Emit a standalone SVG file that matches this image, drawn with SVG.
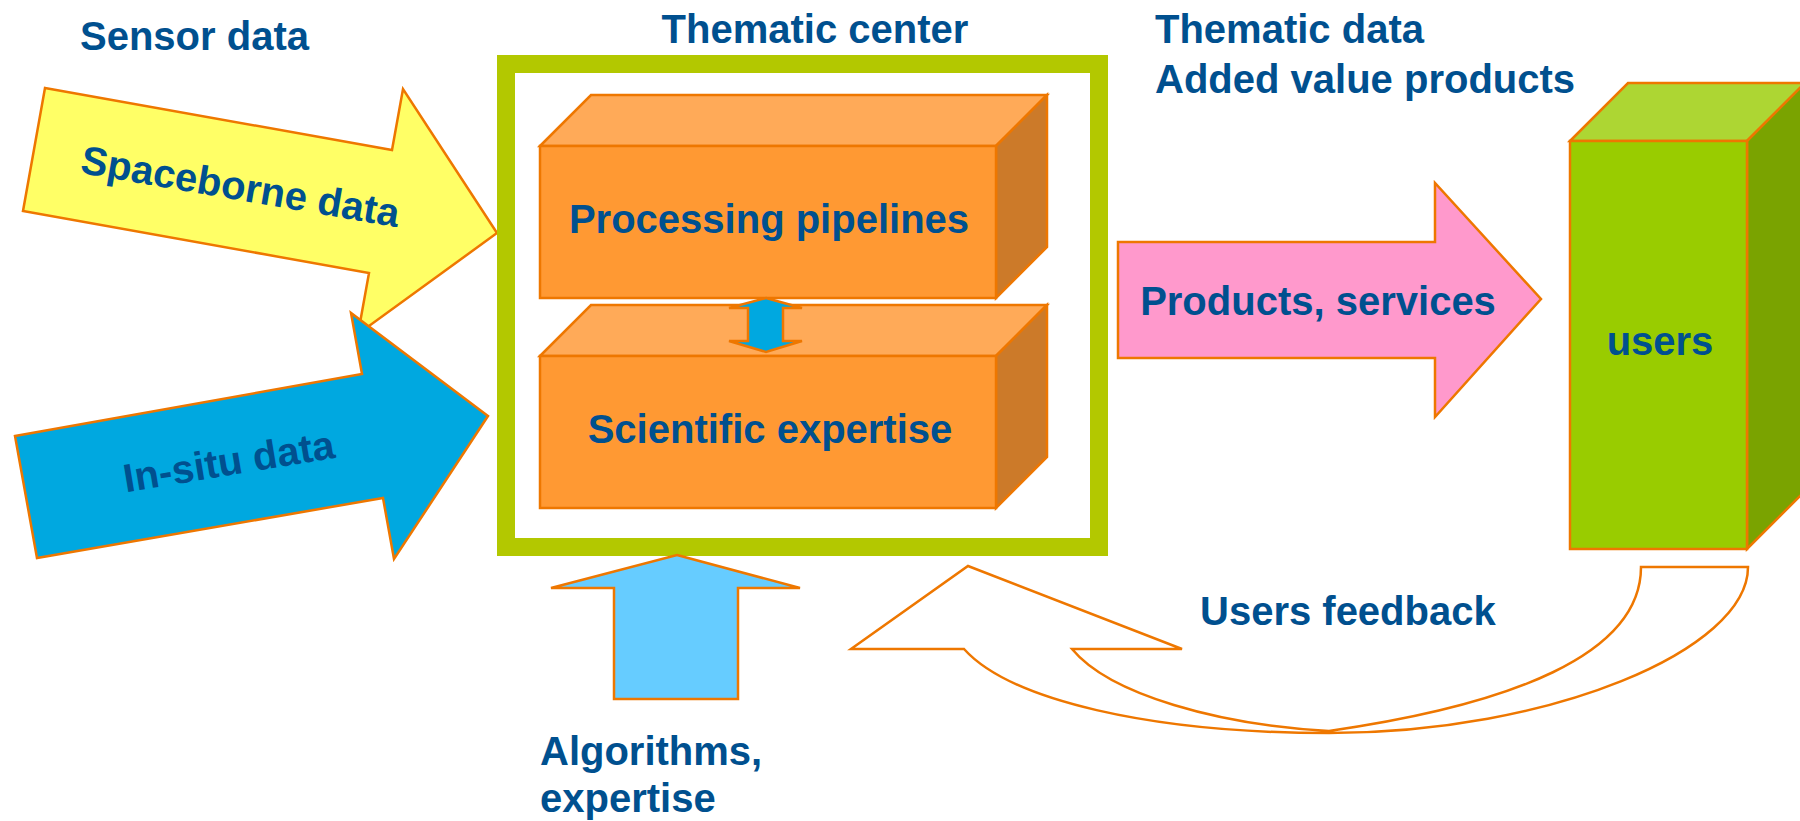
<svg xmlns="http://www.w3.org/2000/svg" width="1800" height="821" viewBox="0 0 1800 821">
<style>
.t{font-family:"Liberation Sans",Arial,sans-serif;font-weight:bold;font-size:40px;fill:#00508F}
.m{text-anchor:middle}
.o{stroke:#EE7700;stroke-width:2.5;stroke-linejoin:miter}
</style>
<rect width="1800" height="821" fill="#FFFFFF"/>
<g id="labels">
<text class="t" x="80" y="50">Sensor data</text>
<text class="t m" x="815" y="43">Thematic center</text>
<text class="t" x="1155" y="43">Thematic data</text>
<text class="t" x="1155" y="93">Added value products</text>
</g>
<g id="spaceborne">
<polygon class="o" fill="#FFFF66" points="45,88 392,150 403,89 497,233 358,334 369,273 23,211"/>
<text class="t m" x="238" y="200" transform="rotate(9.7 238 200)">Spaceborne data</text>
</g>
<g id="insitu">
<polygon class="o" fill="#00A8E0" points="15,436 362,374 351,313 488,416 394,559 383,498 37,558"/>
<text class="t m" x="231" y="475" transform="rotate(-9.4 231 475)">In-situ data</text>
</g>
<g id="thematic-center">
<rect x="506" y="64" width="593" height="483" fill="#FFFFFF" stroke="#B3C800" stroke-width="18"/>
</g>
<g id="processing">
<polygon class="o" fill="#FFAA58" points="540,146 591,95 1047,95 996,146"/>
<polygon class="o" fill="#CC7A29" points="996,146 1047,95 1047,247 996,298"/>
<rect class="o" fill="#FF9933" x="540" y="146" width="456" height="152"/>
<text class="t m" x="769" y="233">Processing pipelines</text>
</g>
<g id="scientific">
<polygon class="o" fill="#FFAA58" points="540,356 591,305 1047,305 996,356"/>
<polygon class="o" fill="#CC7A29" points="996,356 1047,305 1047,457 996,508"/>
<rect class="o" fill="#FF9933" x="540" y="356" width="456" height="152"/>
<text class="t m" x="770" y="443">Scientific expertise</text>
</g>
<g id="users">
<polygon class="o" fill="#ADD633" points="1570,141 1628,83 1805,83 1747,141"/>
<polygon class="o" fill="#7AA300" points="1747,141 1805,83 1805,491 1747,549"/>
<rect class="o" fill="#99CC00" x="1570" y="141" width="177" height="408"/>
<text class="t m" x="1660" y="355">users</text>
</g>
<g id="connectors">
<polygon class="o" fill="#00A8E0" points="766,298 802,308 783,308 783,341 802,341 766,352 729,341 748,341 748,308 729,308"/>
<polygon class="o" fill="#66CCFF" points="677,555 800,588 738,588 738,699 614,699 614,588 551,588"/>
<polygon class="o" fill="#FF99CC" points="1118,242 1435,242 1435,183 1541,299 1435,417 1435,358 1118,358"/>
<text class="t m" x="1318" y="315">Products, services</text>
<path class="o" fill="#FFFFFF" d="M1641,567 L1748,567 C1748,650 1550,733 1329,733 C1150,733 1010,700 964,649 L851,649 L968,566 L1182,649 L1072,649 C1110,695 1220,725 1329,731 C1510,705 1641,655 1641,567 Z"/>
<text class="t" x="1200" y="625">Users feedback</text>
<text class="t" x="540" y="765">Algorithms,</text>
<text class="t" x="540" y="812">expertise</text>
</g>
</svg>
